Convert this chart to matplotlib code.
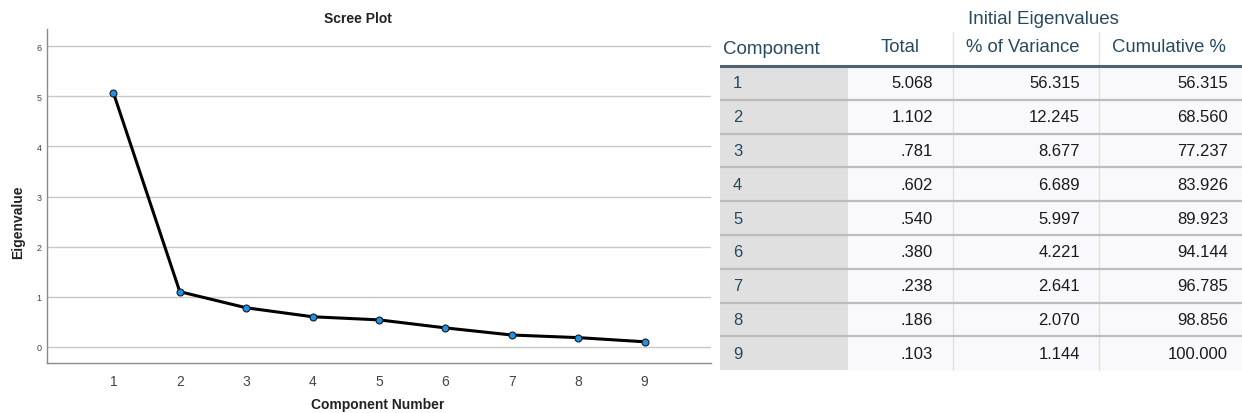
import matplotlib.pyplot as plt
from matplotlib.patches import Rectangle

# data read from the SPSS output
components = [1, 2, 3, 4, 5, 6, 7, 8, 9]
totals = [5.068, 1.102, 0.781, 0.602, 0.540, 0.380, 0.238, 0.186, 0.103]
pct_variance = [56.315, 12.245, 8.677, 6.689, 5.997, 4.221, 2.641, 2.070, 1.144]
cumulative = [56.315, 68.560, 77.237, 83.926, 89.923, 94.144, 96.785, 98.856, 100.000]
y_ticks = [0, 1, 2, 3, 4, 5, 6]
col_headers = ["Component", "Total", "% of Variance", "Cumulative %"]

W, H = 1242, 414
plt.rcParams['font.family'] = ['Liberation Sans', 'DejaVu Sans']
fig = plt.figure(figsize=(W / 100, H / 100), dpi=100)

# --- scree plot ---
ax = fig.add_axes([47 / W, 1 - 364 / H, (711 - 47) / W, (364 - 30) / H])
ax.plot(components, totals, color='black', lw=2.2, zorder=3,
        marker='o', markersize=5, markerfacecolor='#1e90e8',
        markeredgecolor='#1a1a1a', markeredgewidth=0.8)
ax.set_xlim(0, 10)
ax.set_ylim(-0.32, 6.34)
ax.set_xticks(components)
ax.set_yticks(y_ticks)
ax.grid(axis='y', color='#c8c8c8', lw=1)
ax.set_axisbelow(True)
for s in ['top', 'right']:
    ax.spines[s].set_visible(False)
for s in ['left', 'bottom']:
    ax.spines[s].set_color('#8a8a8a')
    ax.spines[s].set_linewidth(1)
ax.tick_params(axis='both', length=0, colors='#444444')
ax.tick_params(axis='x', labelsize=10, pad=8)
ax.tick_params(axis='y', labelsize=6.5, pad=4)
fig.text(358 / W, 1 - 19 / H, "Scree Plot", ha='center', va='center',
         fontsize=10, fontweight='bold', color='#222222')
fig.text(378 / W, 1 - 405 / H, "Component Number", ha='center', va='center',
         fontsize=10, fontweight='bold', color='#222222')
fig.text(18 / W, 1 - 222 / H, "Eigenvalue", ha='center', va='center',
         rotation=90, fontsize=10, fontweight='bold', color='#222222')

# --- eigenvalue table ---
tx = fig.add_axes([720 / W, 0, (W - 720) / W, 1])
tx.set_xlim(720, W)
tx.set_ylim(H, 0)
tx.axis('off')

head_col = '#264a60'
edges = [720, 848, 953, 1099, W]
top, rh = 67, 33.8
bottom = top + rh * len(components)

tx.add_patch(Rectangle((720, top), 848 - 720, bottom - top, color='#e0e0e0', lw=0))
tx.add_patch(Rectangle((848, top), W - 848, bottom - top, color='#f9f9fb', lw=0))
for xv in edges[2:4]:
    tx.plot([xv, xv], [33, top], color='#e4e4e4', lw=1)
    tx.plot([xv, xv], [top, bottom], color='#e0e0e0', lw=1)
for i in range(1, len(components)):
    yv = top + rh * i
    tx.plot([720, W], [yv, yv], color='#bcbcbc', lw=1.6)
tx.plot([720, W], [top, top], color='#4f6170', lw=2.2)

tx.text(1043, 19, "Initial Eigenvalues", ha='center', va='center',
        fontsize=13.5, color=head_col)
tx.text(723, 49, col_headers[0], ha='left', va='center', fontsize=13.5, color=head_col)
tx.text(900, 47, col_headers[1], ha='center', va='center', fontsize=13.3, color=head_col)
tx.text(1023, 47, col_headers[2], ha='center', va='center', fontsize=13.3, color=head_col)
tx.text(1169, 47, col_headers[3], ha='center', va='center', fontsize=13.3, color=head_col)


def fmt(v):
    s = f"{v:.3f}"
    return s[1:] if s.startswith("0.") else s


for i, c in enumerate(components):
    yc = top + rh * (i + 0.5)
    tx.text(733, yc, str(c), ha='left', va='center', fontsize=12, color=head_col)
    tx.text(933, yc, fmt(totals[i]), ha='right', va='center', fontsize=12, color='#1a1a1a')
    tx.text(1080, yc, fmt(pct_variance[i]), ha='right', va='center', fontsize=12, color='#1a1a1a')
    tx.text(1228, yc, fmt(cumulative[i]), ha='right', va='center', fontsize=12, color='#1a1a1a')

fig.savefig("out.png", dpi=100)
